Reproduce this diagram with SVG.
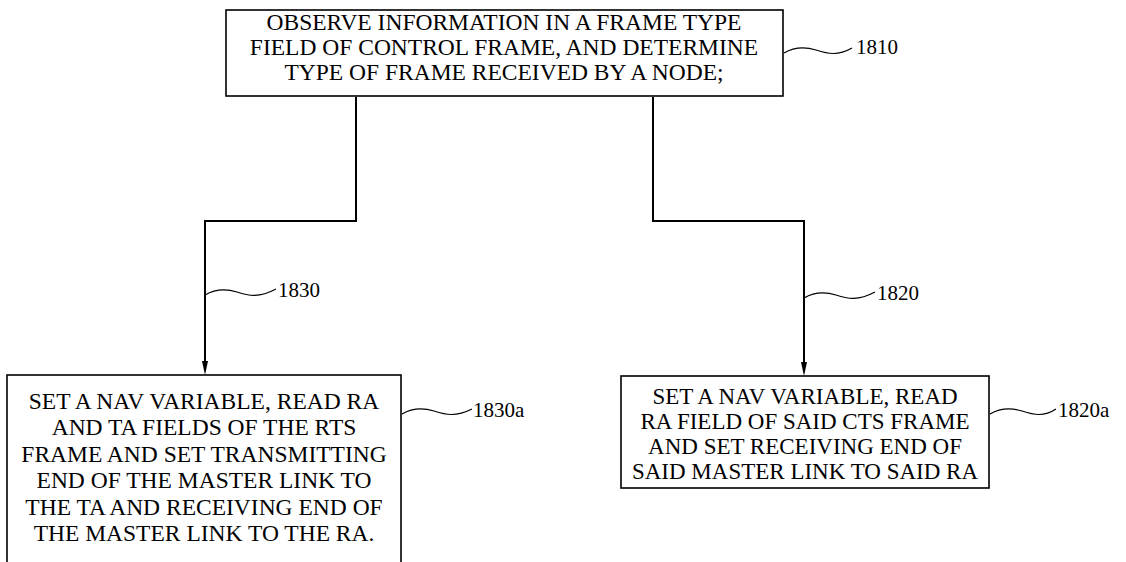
<svg xmlns="http://www.w3.org/2000/svg" width="1126" height="562" viewBox="0 0 1126 562">
  <style>
    .box { fill: #fff; stroke: #000; stroke-width: 1.6; }
    .txt { font-family: "Liberation Serif", "Times New Roman", serif; font-size: 23.5px; fill: #000; text-anchor: middle; }
    .sm { font-size: 23px; }
    .ref { font-family: "Liberation Serif", "Times New Roman", serif; font-size: 21px; fill: #000; }
    .wire { fill: none; stroke: #000; stroke-width: 2; }
    .lead { fill: none; stroke: #000; stroke-width: 1.2; }
  </style>

  <rect width="1126" height="562" fill="#fff"/>

  <!-- connectors from the decision box to both branches -->
  <g id="connectors">
    <path class="wire" d="M356,97 V221 H205 V361"/>
    <path class="wire" d="M653,97 V221 H804 V362"/>
    <path d="M202,361 L208,361 L205,375 Z" fill="#000"/>
    <path d="M801,362 L807,362 L804,376 Z" fill="#000"/>
  </g>

  <!-- step 1810 -->
  <g id="n1810">
    <rect class="box" x="226" y="10" width="557" height="86"/>
    <text class="txt" x="504" y="30">OBSERVE INFORMATION IN A FRAME TYPE</text>
    <text class="txt" x="504" y="55">FIELD OF CONTROL FRAME, AND DETERMINE</text>
    <text class="txt" x="504" y="80">TYPE OF FRAME RECEIVED BY A NODE;</text>
    <path class="lead" d="M784,53 C796,46 806,47 816,50 C828,54 838,56 852,48"/>
    <text class="ref" x="856" y="54">1810</text>
  </g>

  <!-- branch 1830 (RTS frame) -->
  <g id="n1830">
    <path class="lead" d="M205,295 C217,288 227,289 237,292 C249,296 259,298 276,289"/>
    <text class="ref" x="278" y="297">1830</text>
  </g>

  <!-- branch 1820 (CTS frame) -->
  <g id="n1820">
    <path class="lead" d="M804,298 C816,291 826,292 836,295 C848,299 858,301 875,292"/>
    <text class="ref" x="877" y="300">1820</text>
  </g>

  <!-- step 1830a -->
  <g id="n1830a">
    <rect class="box" x="7" y="375" width="394" height="200"/>
    <text class="txt" x="204" y="409">SET A NAV VARIABLE, READ RA</text>
    <text class="txt" x="204" y="435">AND TA FIELDS OF THE RTS</text>
    <text class="txt" x="204" y="462">FRAME AND SET TRANSMITTING</text>
    <text class="txt" x="204" y="488">END OF THE MASTER LINK TO</text>
    <text class="txt" x="204" y="515">THE TA AND RECEIVING END OF</text>
    <text class="txt" x="204" y="541">THE MASTER LINK TO THE RA.</text>
    <path class="lead" d="M402,414 C414,407 424,408 434,411 C446,415 456,417 472,409"/>
    <text class="ref" x="473" y="417">1830a</text>
  </g>

  <!-- step 1820a -->
  <g id="n1820a">
    <rect class="box" x="621" y="376" width="368" height="112"/>
    <text class="txt sm" x="805" y="404">SET A NAV VARIABLE, READ</text>
    <text class="txt sm" x="805" y="429">RA FIELD OF SAID CTS FRAME</text>
    <text class="txt sm" x="805" y="454">AND SET RECEIVING END OF</text>
    <text class="txt sm" x="805" y="479">SAID MASTER LINK TO SAID RA</text>
    <path class="lead" d="M990,414 C1002,407 1012,408 1022,411 C1034,415 1044,417 1056,409"/>
    <text class="ref" x="1058" y="417">1820a</text>
  </g>
</svg>
